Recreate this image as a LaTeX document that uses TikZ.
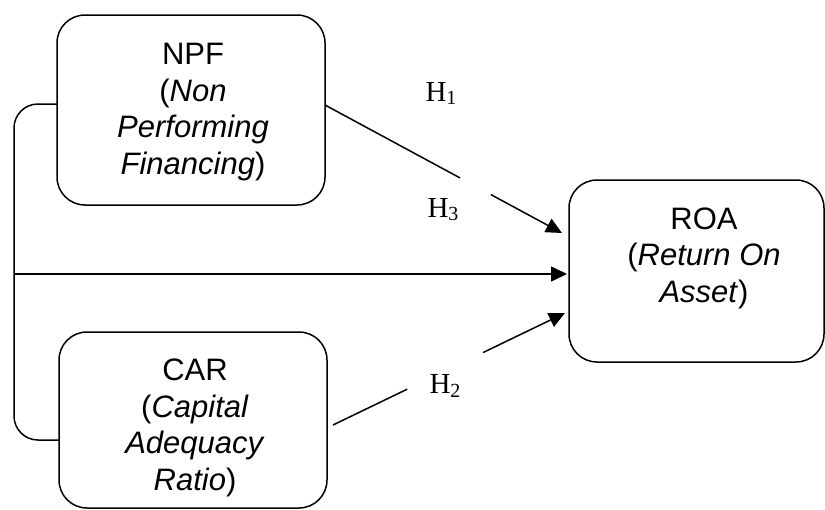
\documentclass[tikz,border=0pt]{standalone}
\usepackage{fontspec}
\setmainfont{Liberation Serif}
\setsansfont{Liberation Sans}
\usetikzlibrary{arrows.meta,calc}
\newcommand{\hyplab}[1]{H\raisebox{-3pt}{\fontsize{20}{20}\selectfont #1}}
\begin{document}
\begin{tikzpicture}[x=1pt,y=-1pt,
  box/.style={draw, line width=1.5pt, rounded corners=28pt, inner sep=0pt, outer sep=0pt},
  boxtext/.style={font=\sffamily\fontsize{31}{36.5}\selectfont, align=center, inner sep=0pt},
  conn/.style={line width=1.5pt},
  arr/.style={line width=1.5pt, -{Triangle[length=16pt,width=15pt]}},
  hyp/.style={font=\fontsize{29}{30}\selectfont, inner sep=0pt}]
\useasboundingbox (0,0) rectangle (825,509);
% boxes
\node[box, minimum width=268pt, minimum height=190pt] (npf) at (191,110) {};
\node[box, minimum width=268pt, minimum height=176pt] (car) at (193,420) {};
\node[box, minimum width=255pt, minimum height=182pt] (roa) at (696.5,271) {};
% box texts
\node[boxtext] (npft) at (193,112) {NPF\\(\textit{Non}\\\textit{Performing}\\\textit{Financing})};
\node[boxtext] (cart) at (195,428) {CAR\\(\textit{Capital}\\\textit{Adequacy}\\\textit{Ratio})};
\node[boxtext] (roat) at (704,258) {ROA\\(\textit{Return On}\\\textit{Asset})};
% hypothesis labels
\node[hyp] (h1) at (441,94) {\hyplab{1}};
\node[hyp] (h3) at (443,210) {\hyplab{3}};
\node[hyp] (h2) at (445,386) {\hyplab{2}};
% coordinates
\coordinate (npfL) at ([yshift=6pt]npf.west);
\coordinate (carL) at ([yshift=-20pt]car.west);
\coordinate (jn) at (14,274);
\coordinate (s1) at ([yshift=5pt]npf.east);
\coordinate (e1) at ([shift={(-7pt,38pt)}]roa.west);
\coordinate (s3) at ([shift={(6pt,-5pt)}]car.east);
\coordinate (e3) at ([shift={(-4pt,-42pt)}]roa.west);
% bracket joining NPF and CAR
\draw[conn, rounded corners=24pt] (npfL) -- ++(-43,0) |- (carL);
% H3 combined arrow
\draw[arr] (jn) -- ($(jn -| roa.west)+(-2,0)$);
% H1
\draw[conn] (s1) -- ($(s1)!0.57!(e1)$);
\draw[arr] ($(s1)!0.70!(e1)$) -- (e1);
% H2
\draw[conn] (s3) -- ($(s3)!0.32!(e3)$);
\draw[arr] ($(s3)!0.647!(e3)$) -- (e3);
\end{tikzpicture}
\end{document}
